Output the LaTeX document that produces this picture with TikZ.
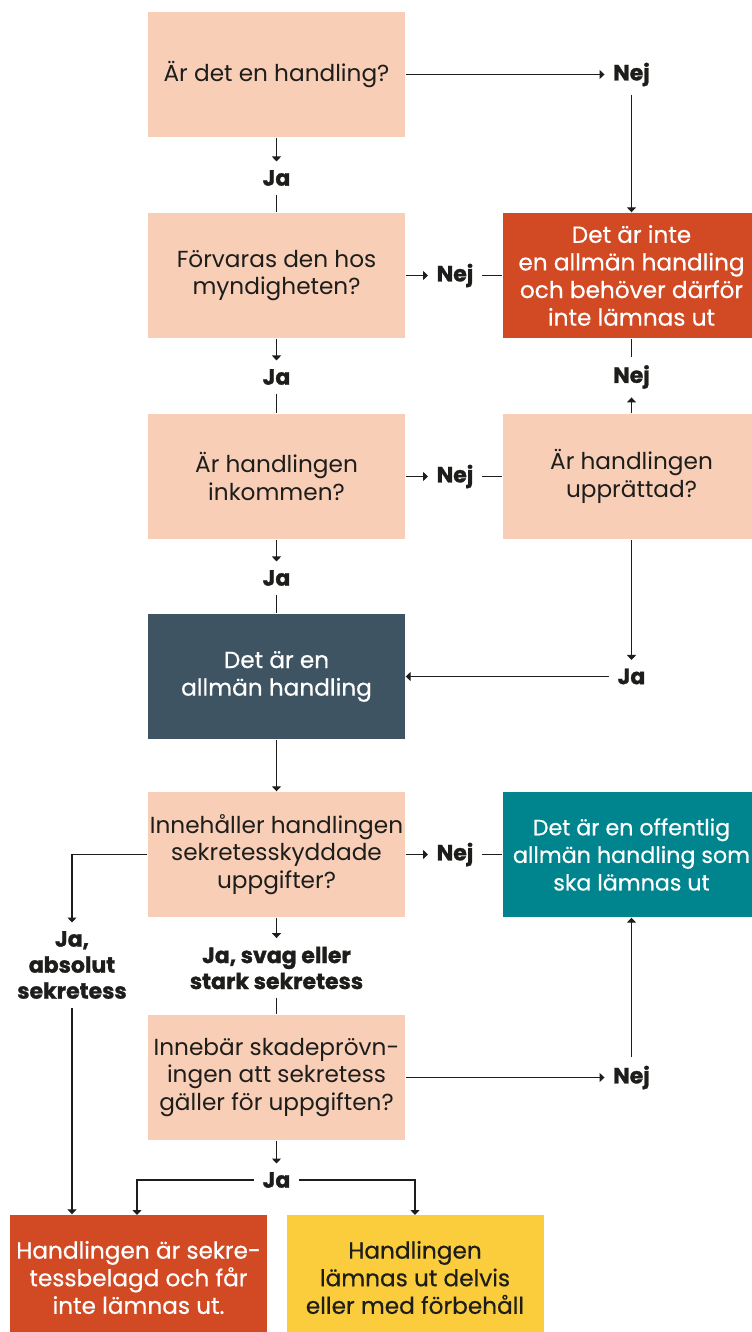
\documentclass[tikz,border=0pt]{standalone}
\usepackage{fontspec}
\setmainfont{Poppins}
\newfontfamily\heavyfont{Poppins}[BoldFeatures = {FakeBold = 1.2}]
\newfontfamily\mediumfont{Poppins}[FakeBold = 0.5]
\usetikzlibrary{arrows.meta}

\definecolor{peach}{HTML}{F8CEB7}
\definecolor{rust}{HTML}{D24A24}
\definecolor{slate}{HTML}{3F5463}
\definecolor{teal}{HTML}{00858E}
\definecolor{sun}{HTML}{FBCD3C}
\definecolor{ink}{HTML}{1D1D1B}

\tikzset{
	box/.style = {minimum width = 128.5pt, minimum height = 62.5pt, align = center, inner sep = 0pt, font = \fontsize{11.6}{13.8}\selectfont},
	question/.style = {box, fill = peach, text = ink},
	verdict/.style = {box, text = white, font = \fontsize{11.6}{13.8}\selectfont\mediumfont},
	answer/.style = {font = \fontsize{11}{13}\selectfont\heavyfont\bfseries, text = ink, inner sep = 4pt, align = center}
}

\begin{document}
\begin{tikzpicture}[x = 0.5pt, y = -0.5pt, > = {Triangle[width = 4.5pt, length = 2.5pt]}, line width = 0.7pt, draw = ink]

	\useasboundingbox (0, 0) rectangle (751, 1332);

	% Questions

	\node [question] (q1) at (276.5, 74.5) {Är det en handling?};
	\node [question] (q2) at (276.5, 275.5) {Förvaras den hos\\myndigheten?};
	\node [question] (q3) at (276.5, 476.5) {Är handlingen\\inkommen?};
	\node [question] (q4) at (631.5, 476.5) {Är handlingen\\upprättad?};
	\node [question] (q5) at (276.5, 854.5) {Innehåller handlingen\\sekretesskyddade\\uppgifter?};
	\node [question] (q6) at (276.5, 1077.5) {Innebär skadeprövn-\\ingen att sekretess\\gäller för uppgiften?};

	% Outcomes

	\node [verdict, fill = rust] (notpublic) at (631.5, 275.5) {Det är inte\\en allmän handling\\och behöver därför\\inte lämnas ut};
	\node [verdict, fill = slate] (public) at (276.5, 676.5) {Det är en\\allmän handling};
	\node [verdict, fill = teal, font = \fontsize{11.1}{13.8}\selectfont\mediumfont] (open) at (631.5, 854.5) {Det är en offentlig\\allmän handling som\\ska lämnas ut};
	\node [verdict, fill = rust] (secret) at (138.5, 1277.5) {Handlingen är sekre-\\tessbelagd och får\\inte lämnas ut.};
	\node [verdict, fill = sun, text = ink] (partly) at (415, 1277.5) {Handlingen\\lämnas ut delvis\\eller med förbehåll};

	% Answers

	\node [answer] (nej1) at (631.5, 74.5) {Nej};
	\node [answer] (ja1) at (276.5, 178) {Ja};
	\node [answer] (nej2) at (455, 275.5) {Nej};
	\node [answer] (ja2) at (276.5, 377) {Ja};
	\node [answer] (nej3) at (455, 476.5) {Nej};
	\node [answer] (nej4) at (631.5, 377) {Nej};
	\node [answer] (ja3) at (276.5, 578) {Ja};
	\node [answer] (ja4) at (631.5, 676.5) {Ja};
	\node [answer] (nej5) at (455, 854.5) {Nej};
	\node [answer] (absolut) at (72, 965) {Ja,\\absolut\\sekretess};
	\node [answer] (jasvag) at (276.5, 968) {Ja, svag eller\\stark sekretess};
	\node [answer] (nej6) at (631.5, 1077.5) {Nej};
	\node [answer] (ja6) at (276.5, 1180) {Ja};

	\coordinate (leftdrop) at (137, 1215);
	\coordinate (rightdrop) at (415, 1215);

	% Connectors

	\draw [->] (q1) -- (nej1);
	\draw [->] (nej1) -- (notpublic);
	\draw [->] (q1) -- (ja1);
	\draw (ja1) -- (q2);
	\draw [->] (q2) -- (nej2);
	\draw (nej2) -- (notpublic);
	\draw [->] (q2) -- (ja2);
	\draw (ja2) -- (q3);
	\draw [->] (q3) -- (nej3);
	\draw (nej3) -- (q4);
	\draw [->] (q4) -- (nej4);
	\draw (nej4) -- (notpublic);
	\draw [->] (q3) -- (ja3);
	\draw (ja3) -- (public);
	\draw [->] (q4) -- (ja4);
	\draw [->] (ja4) -- (public);
	\draw [->] (public) -- (q5);
	\draw [->] (q5) -- (nej5);
	\draw (nej5) -- (open);
	\draw [->] (q5.west) -| (absolut);
	\draw [->] (absolut.south) -- (absolut.south |- secret.north);
	\draw [->] (q5) -- (jasvag);
	\draw (jasvag) -- (q6);
	\draw [->] (q6) -- (nej6);
	\draw [->] (nej6) -- (open);
	\draw [->] (q6) -- (ja6);
	\draw [->] (ja6) -| (leftdrop);
	\draw [->] (ja6) -| (rightdrop);

\end{tikzpicture}
\end{document}
